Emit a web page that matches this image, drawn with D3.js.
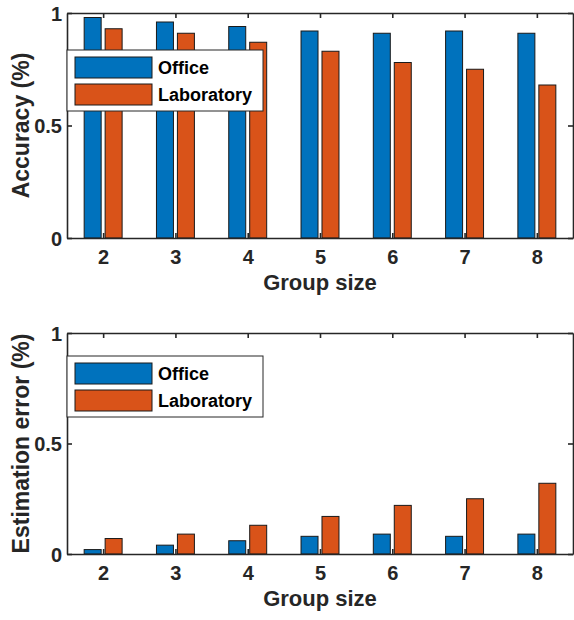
<!DOCTYPE html>
<html>
<head>
<meta charset="utf-8">
<script src="https://cdn.jsdelivr.net/npm/d3@7"></script>
<style>
  body { margin: 0; background: #fff; }
  svg { display: block; font-family: "Liberation Sans", Arial, sans-serif; font-weight: bold; }
</style>
</head>
<body>
<script>
// group sizes on x
var groups = [2, 3, 4, 5, 6, 7, 8];
var seriesNames = ["Office", "Laboratory"];
var colors = ["#0072BD", "#D95319"];

var accOffice = [0.98, 0.96, 0.94, 0.92, 0.91, 0.92, 0.91];
var accLab    = [0.93, 0.91, 0.87, 0.83, 0.78, 0.75, 0.68];

var errOffice = [0.02, 0.04, 0.06, 0.08, 0.09, 0.08, 0.09];
var errLab    = [0.07, 0.09, 0.13, 0.17, 0.22, 0.25, 0.32];

var yTicks = [0, 0.5, 1];

var W = 574, H = 620;
var svg = d3.select("body").append("svg")
    .attr("width", W)
    .attr("height", H);

var ink = "#262626";

function panel(top, bottom, series, yLabel, legendTop) {
    var x = d3.scaleLinear().domain([1.5, 8.5]).range([67, 573]);
    var y = d3.scaleLinear().domain([0, 1]).range([bottom, top]);
    var barW = 0.235, off = 0.145;

    var g = svg.append("g");

    // bars
    series.forEach(function(vals, si) {
        g.selectAll(null)
            .data(vals)
            .enter()
            .append("rect")
            .attr("x", function(d, i) { return x(groups[i] + (si === 0 ? -off : off) - barW / 2); })
            .attr("width", x(barW) - x(0))
            .attr("y", function(d) { return y(d); })
            .attr("height", function(d) { return y(0) - y(d); })
            .attr("fill", colors[si])
            .attr("stroke", "#1a1a1a")
            .attr("stroke-width", 1);
    });

    // axes, ticks pointing inward
    var xAxis = d3.axisBottom(x).tickValues(groups).tickSizeInner(-5).tickSizeOuter(0).tickPadding(12)
        .tickFormat(d3.format("d"));
    var xTop = d3.axisTop(x).tickValues(groups).tickSizeInner(-5).tickSizeOuter(0).tickFormat("");
    var yAxis = d3.axisLeft(y).tickValues(yTicks).tickSizeInner(-5).tickSizeOuter(0).tickPadding(5)
        .tickFormat(d3.format(""));
    var yRight = d3.axisRight(y).tickValues(yTicks).tickSizeInner(-5).tickSizeOuter(0).tickFormat("");

    var axes = [
        g.append("g").attr("transform", "translate(0," + bottom + ")").call(xAxis),
        g.append("g").attr("transform", "translate(0," + top + ")").call(xTop),
        g.append("g").attr("transform", "translate(67,0)").call(yAxis),
        g.append("g").attr("transform", "translate(573,0)").call(yRight)
    ];
    axes.forEach(function(a) {
        a.select(".domain").attr("stroke", ink).attr("stroke-width", 1.6);
        a.selectAll(".tick line").attr("stroke", ink).attr("stroke-width", 1.6);
        a.selectAll(".tick text")
            .attr("fill", ink)
            .style("font-size", "20px")
            .style("font-family", "Liberation Sans, Arial, sans-serif")
            .style("font-weight", "bold");
    });
    axes[2].selectAll(".tick text").attr("dy", "0.36em");

    // axis titles
    g.append("text")
        .attr("x", (67 + 573) / 2)
        .attr("y", bottom + 52)
        .attr("text-anchor", "middle")
        .attr("fill", ink)
        .style("font-size", "22px")
        .text("Group size");

    g.append("text")
        .attr("transform", "translate(29," + (top + bottom) / 2 + ") rotate(-90)")
        .attr("text-anchor", "middle")
        .attr("fill", ink)
        .style("font-size", "23px")
        .text(yLabel);

    // legend
    var lg = g.append("g").attr("transform", "translate(67," + legendTop + ")");
    lg.append("rect")
        .attr("width", 196).attr("height", 61)
        .attr("fill", "#fff")
        .attr("stroke", ink).attr("stroke-width", 1);
    seriesNames.forEach(function(name, i) {
        lg.append("rect")
            .attr("x", 8).attr("y", 7 + i * 27)
            .attr("width", 77).attr("height", 21)
            .attr("fill", colors[i])
            .attr("stroke", "#1a1a1a").attr("stroke-width", 1);
        lg.append("text")
            .attr("x", 91).attr("y", 24 + i * 27)
            .attr("fill", "#000")
            .style("font-size", "18px")
            .text(name);
    });
}

panel(13, 238, [accOffice, accLab], "Accuracy (%)", 50);
panel(333, 554, [errOffice, errLab], "Estimation error (%)", 356);
</script>
</body>
</html>
